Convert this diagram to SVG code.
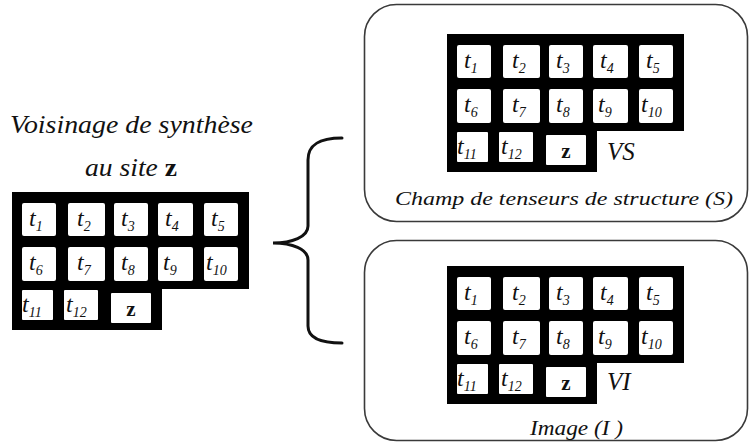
<svg xmlns="http://www.w3.org/2000/svg" width="750" height="446" viewBox="0 0 750 446" font-family="'Liberation Serif', 'DejaVu Serif', serif">
<style>
.bg{fill:#fff}
.frame{fill:none;stroke:#3a3a3a;stroke-width:1.6}
.blk{fill:#000}
.cell{fill:#fff}
text{font-family:'Liberation Serif','DejaVu Serif',serif}
.t{font-style:italic;font-size:24px;fill:#111}
.s{font-size:14px}
.z{font-weight:bold;font-size:21px;fill:#111;text-anchor:middle}
.cap{font-style:italic;fill:#111}
.brace{fill:none;stroke:#111;stroke-width:3;stroke-linecap:round}
</style>
<rect class="bg" x="0" y="0" width="750" height="446"/>

<g id="title">
<text class="cap" x="10" y="133" font-size="25" textLength="243" lengthAdjust="spacingAndGlyphs">Voisinage de synthèse</text>
<text class="cap" x="85" y="176" font-size="25" textLength="92" lengthAdjust="spacingAndGlyphs">au site <tspan font-weight="bold" font-style="normal">z</tspan></text>
</g>

<g id="grid-left" transform="translate(12,192)">
<polygon class="blk" points="0,0 237,0 237,97 150,97 150,138 0,138"/>
<rect class="cell" x="10" y="11" width="34" height="33" rx="2"/>
<rect class="cell" x="56" y="11" width="37" height="33" rx="2"/>
<rect class="cell" x="102" y="11" width="34" height="33" rx="2"/>
<rect class="cell" x="146" y="11" width="35" height="33" rx="2"/>
<rect class="cell" x="192" y="11" width="34" height="33" rx="2"/>
<rect class="cell" x="10" y="55" width="34" height="34" rx="2"/>
<rect class="cell" x="56" y="55" width="37" height="34" rx="2"/>
<rect class="cell" x="102" y="55" width="34" height="34" rx="2"/>
<rect class="cell" x="146" y="55" width="35" height="34" rx="2"/>
<rect class="cell" x="192" y="55" width="34" height="34" rx="2"/>
<rect class="cell" x="10" y="98" width="31" height="30" rx="1"/>
<rect class="cell" x="52" y="98" width="34" height="30" rx="1"/>
<rect class="cell" x="99" y="101" width="40" height="30" rx="1"/>
<text class="t" x="17" y="34">t<tspan class="s" dy="5">1</tspan></text>
<text class="t" x="65" y="34">t<tspan class="s" dy="5">2</tspan></text>
<text class="t" x="109" y="34">t<tspan class="s" dy="5">3</tspan></text>
<text class="t" x="153" y="34">t<tspan class="s" dy="5">4</tspan></text>
<text class="t" x="199" y="34">t<tspan class="s" dy="5">5</tspan></text>
<text class="t" x="17" y="78">t<tspan class="s" dy="5">6</tspan></text>
<text class="t" x="65" y="78">t<tspan class="s" dy="5">7</tspan></text>
<text class="t" x="109" y="78">t<tspan class="s" dy="5">8</tspan></text>
<text class="t" x="151" y="78">t<tspan class="s" dy="5">9</tspan></text>
<text class="t" x="194" y="78">t<tspan class="s" dy="5">10</tspan></text>
<text class="t" x="10" y="120">t<tspan class="s" dy="5">11</tspan></text>
<text class="t" x="54" y="120">t<tspan class="s" dy="5">12</tspan></text>
<text class="z" x="119" y="124">z</text>
</g>

<g id="box-structure">
<rect class="frame" x="364.5" y="4.5" width="383" height="217" rx="32"/>
<g transform="translate(447,34)">
<polygon class="blk" points="0,0 237,0 237,97 150,97 150,138 0,138"/>
<rect class="cell" x="10" y="11" width="34" height="33" rx="2"/>
<rect class="cell" x="56" y="11" width="37" height="33" rx="2"/>
<rect class="cell" x="102" y="11" width="34" height="33" rx="2"/>
<rect class="cell" x="146" y="11" width="35" height="33" rx="2"/>
<rect class="cell" x="192" y="11" width="34" height="33" rx="2"/>
<rect class="cell" x="10" y="55" width="34" height="34" rx="2"/>
<rect class="cell" x="56" y="55" width="37" height="34" rx="2"/>
<rect class="cell" x="102" y="55" width="34" height="34" rx="2"/>
<rect class="cell" x="146" y="55" width="35" height="34" rx="2"/>
<rect class="cell" x="192" y="55" width="34" height="34" rx="2"/>
<rect class="cell" x="10" y="98" width="31" height="30" rx="1"/>
<rect class="cell" x="52" y="98" width="34" height="30" rx="1"/>
<rect class="cell" x="99" y="101" width="40" height="30" rx="1"/>
<text class="t" x="17" y="34">t<tspan class="s" dy="5">1</tspan></text>
<text class="t" x="65" y="34">t<tspan class="s" dy="5">2</tspan></text>
<text class="t" x="109" y="34">t<tspan class="s" dy="5">3</tspan></text>
<text class="t" x="153" y="34">t<tspan class="s" dy="5">4</tspan></text>
<text class="t" x="199" y="34">t<tspan class="s" dy="5">5</tspan></text>
<text class="t" x="17" y="78">t<tspan class="s" dy="5">6</tspan></text>
<text class="t" x="65" y="78">t<tspan class="s" dy="5">7</tspan></text>
<text class="t" x="109" y="78">t<tspan class="s" dy="5">8</tspan></text>
<text class="t" x="151" y="78">t<tspan class="s" dy="5">9</tspan></text>
<text class="t" x="194" y="78">t<tspan class="s" dy="5">10</tspan></text>
<text class="t" x="10" y="120">t<tspan class="s" dy="5">11</tspan></text>
<text class="t" x="54" y="120">t<tspan class="s" dy="5">12</tspan></text>
<text class="z" x="119" y="124">z</text>
<text class="cap" x="160" y="126" font-size="25">VS</text>
</g>
<text class="cap" x="395" y="205" font-size="18" textLength="338" lengthAdjust="spacingAndGlyphs">Champ de tenseurs de structure (S)</text>
</g>

<g id="box-image">
<rect class="frame" x="364.5" y="240.5" width="383" height="200" rx="32"/>
<g transform="translate(447,266)">
<polygon class="blk" points="0,0 237,0 237,97 150,97 150,138 0,138"/>
<rect class="cell" x="10" y="11" width="34" height="33" rx="2"/>
<rect class="cell" x="56" y="11" width="37" height="33" rx="2"/>
<rect class="cell" x="102" y="11" width="34" height="33" rx="2"/>
<rect class="cell" x="146" y="11" width="35" height="33" rx="2"/>
<rect class="cell" x="192" y="11" width="34" height="33" rx="2"/>
<rect class="cell" x="10" y="55" width="34" height="34" rx="2"/>
<rect class="cell" x="56" y="55" width="37" height="34" rx="2"/>
<rect class="cell" x="102" y="55" width="34" height="34" rx="2"/>
<rect class="cell" x="146" y="55" width="35" height="34" rx="2"/>
<rect class="cell" x="192" y="55" width="34" height="34" rx="2"/>
<rect class="cell" x="10" y="98" width="31" height="30" rx="1"/>
<rect class="cell" x="52" y="98" width="34" height="30" rx="1"/>
<rect class="cell" x="99" y="101" width="40" height="30" rx="1"/>
<text class="t" x="17" y="34">t<tspan class="s" dy="5">1</tspan></text>
<text class="t" x="65" y="34">t<tspan class="s" dy="5">2</tspan></text>
<text class="t" x="109" y="34">t<tspan class="s" dy="5">3</tspan></text>
<text class="t" x="153" y="34">t<tspan class="s" dy="5">4</tspan></text>
<text class="t" x="199" y="34">t<tspan class="s" dy="5">5</tspan></text>
<text class="t" x="17" y="78">t<tspan class="s" dy="5">6</tspan></text>
<text class="t" x="65" y="78">t<tspan class="s" dy="5">7</tspan></text>
<text class="t" x="109" y="78">t<tspan class="s" dy="5">8</tspan></text>
<text class="t" x="151" y="78">t<tspan class="s" dy="5">9</tspan></text>
<text class="t" x="194" y="78">t<tspan class="s" dy="5">10</tspan></text>
<text class="t" x="10" y="120">t<tspan class="s" dy="5">11</tspan></text>
<text class="t" x="54" y="120">t<tspan class="s" dy="5">12</tspan></text>
<text class="z" x="119" y="124">z</text>
<text class="cap" x="160" y="124" font-size="25">VI</text>
</g>
<text class="cap" x="530" y="435" font-size="20" textLength="93" lengthAdjust="spacingAndGlyphs">Image (I )</text>
</g>

<g id="connectors">
<path class="brace" d="M342,138 C320,138 308,144 308,160 L308,226 C308,237 292,243 273,243 C292,243 308,249 308,260 L308,326 C308,338 320,343 342,343"/>
</g>
</svg>
